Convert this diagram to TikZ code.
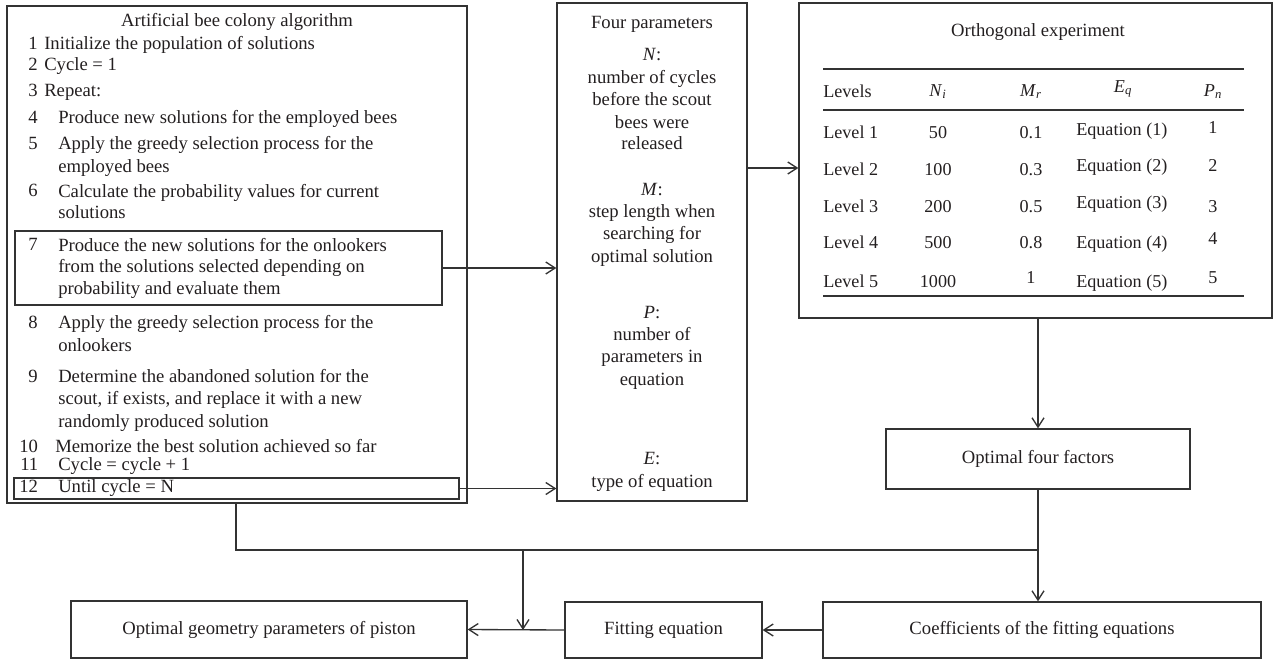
\documentclass[tikz,border=0pt]{standalone}
\usepackage{fontspec}
\setmainfont{Liberation Serif}
\usetikzlibrary{arrows.meta,fit,calc}
\definecolor{ln}{HTML}{333333}
\definecolor{tx}{HTML}{231F20}
\newcommand\fsz{\fontsize{14}{16}\selectfont}
\newcommand\fst{\fontsize{13.6}{16}\selectfont}
\begin{document}
\begin{tikzpicture}[x=0.75pt,y=-0.75pt,
  box/.style={draw=ln, line width=1pt, inner sep=0pt},
  arr/.style={draw=ln, line width=1pt, -{Straight Barb[length=7pt,width=9pt]}},
  plain/.style={draw=ln, line width=1pt},
  tl/.style={anchor=base west, inner sep=0pt, text=tx, font=\fsz},
  tc/.style={anchor=base, inner sep=0pt, text=tx, font=\fsz},
  tm/.style={anchor=center, inner sep=0pt, text=tx, font=\fsz},
  tt/.style={anchor=base, inner sep=0pt, text=tx, font=\fst},
  ttl/.style={anchor=base west, inner sep=0pt, text=tx, font=\fst}]
\useasboundingbox (0,0) rectangle (1274,661);

% ---------- ABC box ----------
\node[box, fit={(7,6) (467,503)}] (abc) {};
\node[box, fit={(15,231) (442,305)}] (box7) {};
\node[box, fit={(14,478) (459,499)}] (box12) {};

\node[tc] (abct) at (237,26) {Artificial bee colony algorithm};
\node[tl] (n1) at (28,49) {1};  \node[tl] (l1) at (44,49) {Initialize the population of solutions};
\node[tl] (n2) at (28,70) {2};  \node[tl] (l2) at (44,70) {Cycle = 1};
\node[tl] (n3) at (28,96) {3};  \node[tl] (l3) at (44,96) {Repeat:};
\node[tl] (n4) at (28,123) {4}; \node[tl] (l4) at (58,123) {Produce new solutions for the employed bees};
\node[tl] (n5) at (28,149) {5}; \node[tl] (l5a) at (58,149) {Apply the greedy selection process for the};
\node[tl] (l5b) at (58,172) {employed bees};
\node[tl] (n6) at (28,196) {6}; \node[tl] (l6a) at (58,197) {Calculate the probability values for current};
\node[tl] (l6b) at (58,218) {solutions};
\node[tl] (n7) at (28,250) {7}; \node[tl] (l7a) at (58,251) {Produce the new solutions for the onlookers};
\node[tl] (l7b) at (58,272) {from the solutions selected depending on};
\node[tl] (l7c) at (58,294) {probability and evaluate them};
\node[tl] (n8) at (28,328) {8}; \node[tl] (l8a) at (58,328) {Apply the greedy selection process for the};
\node[tl] (l8b) at (58,351) {onlookers};
\node[tl] (n9) at (28,382) {9}; \node[tl] (l9a) at (58,382) {Determine the abandoned solution for the};
\node[tl] (l9b) at (58,404) {scout, if exists, and replace it with a new};
\node[tl] (l9c) at (58,427) {randomly produced solution};
\node[tl] (n10) at (19,452) {10}; \node[tl] (l10) at (55,452) {Memorize the best solution achieved so far};
\node[tl] (n11) at (20,470) {11}; \node[tl] (l11) at (58,470) {Cycle = cycle + 1};
\node[tl] (n12) at (19,492) {12}; \node[tl] (l12) at (58,492) {Until cycle = N};

% ---------- Four parameters ----------
\node[box, fit={(557,3) (747,501)}] (four) {};
\node[tc] at (652,28) {Four parameters};
\node[tc] at (652,60) {\textit{N}:};
\node[tc] at (652,83) {number of cycles};
\node[tc] at (652,105) {before the scout};
\node[tc] at (652,128) {bees were};
\node[tc] at (652,149) {released};
\node[tc] at (652,195) {\textit{M}:};
\node[tc] at (652,217) {step length when};
\node[tc] at (652,239) {searching for};
\node[tc] at (652,262) {optimal solution};
\node[tc] at (652,318) {\textit{P}:};
\node[tc] at (652,340) {number of};
\node[tc] at (652,362) {parameters in};
\node[tc] at (652,385) {equation};
\node[tc] at (652,464) {\textit{E}:};
\node[tc] at (652,487) {type of equation};

% ---------- Orthogonal experiment ----------
\node[box, fit={(799,3) (1272,318)}] (ortho) {};
\node[tc] at (1038,36) {Orthogonal experiment};
\draw[plain] (823,69) -- (1244,69);
\draw[plain] (823,110) -- (1244,110);
\draw[plain] (823,296) -- (1244,296);
\node[ttl] at (823,97) {Levels};
\node[tt] at (938,96) {\textit{N}\textsubscript{\textit{i}}};
\node[tt] at (1031,96) {\textit{M}\textsubscript{\textit{r}}};
\node[tt] at (1123,92) {\textit{E}\textsubscript{\textit{q}}};
\node[tt] at (1213,96) {\textit{P}\textsubscript{\textit{n}}};
\foreach \lv/\y/\ni/\mr/\ym/\ye/\yp in {1/138/50/0.1/138/135/133, 2/175/100/0.3/175/171/171, 3/212/200/0.5/212/208/212, 4/248/500/0.8/248/248/244, 5/287/1000/1/283/287/283}{
  \node[ttl] at (823,\y) {Level \lv};
  \node[tt] at (938,\y) {\ni};
  \node[tt] at (1031,\ym) {\mr};
  \node[ttl] at (1076,\ye) {Equation (\lv)};
  \node[tt] at (1213,\yp) {\lv};
}

% ---------- Lower boxes ----------
\node[box, fit={(886,429) (1190,489)}] (opt4) {};
\node[tm] at (opt4.center) {Optimal four factors};
\node[box, fit={(823,602) (1261,658)}] (coeff) {};
\node[tm] at (coeff.center) {Coefficients of the fitting equations};
\node[box, fit={(565,602) (762,658)}] (fiteq) {};
\node[tm] at (fiteq.center) {Fitting equation};
\node[box, fit={(71,601) (467,658)}] (geo) {};
\node[tm] at (geo.center) {Optimal geometry parameters of piston};

% ---------- Connectors ----------
\coordinate (j1) at (236,550);
\coordinate (j2) at (1038,550);
\coordinate (j3) at (523,550);

\draw[arr] (box7.east) -- (box7.east -| four.west);
\draw[arr] (box12.east) -- (box12.east -| four.west);
\draw[arr] (four.east |- 0,168) -- (ortho.west |- 0,168);
\draw[arr] (ortho.south -| opt4.north) -- (opt4.north);
\draw[plain] (abc.south -| j1) -- (j1) -- (j2);
\draw[arr] (opt4.south -| j2) -- (coeff.north -| j2);
\draw[arr] (j3) -- (j3 |- fiteq.west);
\draw[arr] (coeff.west) -- (fiteq.east);
\draw[arr] (fiteq.west) -- (geo.east);
\end{tikzpicture}
\end{document}
